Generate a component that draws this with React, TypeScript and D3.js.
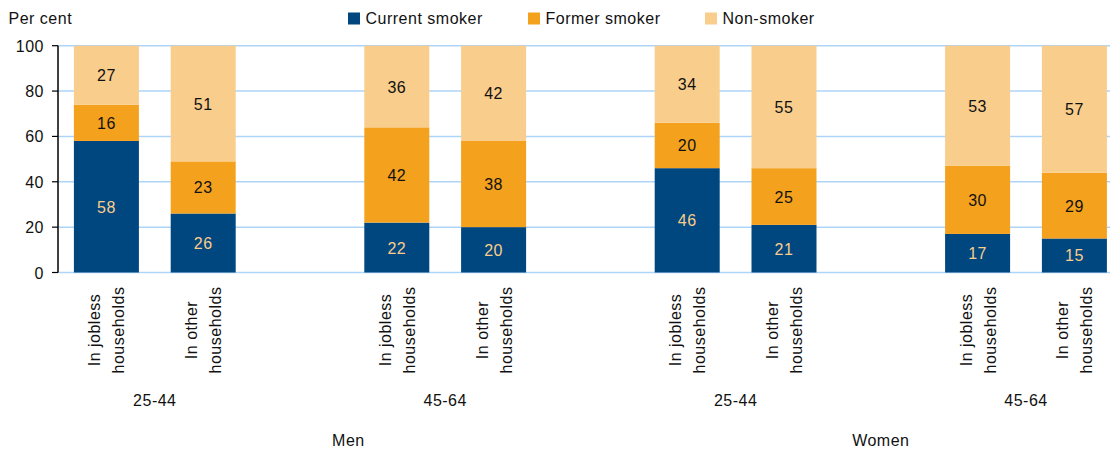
import React from "react";
import * as d3 from "d3";

const barKeys = ["M25j", "M25o", "gapA", "M45j", "M45o", "gapB", "W25j", "W25o", "gapC", "W45j", "W45o"];
const barCategories = [
  ["In jobless", "households"],
  ["In other", "households"],
  ["In jobless", "households"],
  ["In other", "households"],
  ["In jobless", "households"],
  ["In other", "households"],
  ["In jobless", "households"],
  ["In other", "households"],
];
const barIds = ["M25j", "M25o", "M45j", "M45o", "W25j", "W25o", "W45j", "W45o"];
const ageGroups = ["25-44", "45-64", "25-44", "45-64"];
const ageBars = [["M25j", "M25o"], ["M45j", "M45o"], ["W25j", "W25o"], ["W45j", "W45o"]];
const sexes = ["Men", "Women"];
const sexSlots = [["M25j", "gapB"], ["W25j", "W45o"]];

const currentSmoker = [58, 26, 22, 20, 46, 21, 17, 15];
const formerSmoker = [16, 23, 42, 38, 20, 25, 30, 29];
const nonSmoker = [27, 51, 36, 42, 34, 55, 53, 57];

const seriesNames = ["Current smoker", "Former smoker", "Non-smoker"];
const seriesColors = ["#00467f", "#f4a11e", "#f9cd8c"];
const labelColors = ["#f9cd8c", "#111111", "#111111"];
const yTicks = [0, 20, 40, 60, 80, 100];

const W = 1110;
const H = 452;
const left = 58;
const step = 96.8;
const top = 45.7;
const bottom = 272.5;
const FONT = "'Liberation Sans', Arial, sans-serif";
const LS = 0.5;

export default function App() {
  const x = d3
    .scaleBand<string>()
    .domain(barKeys)
    .range([left, left + step * barKeys.length])
    .paddingInner(0.3285)
    .paddingOuter(0.16425);
  const y = d3.scaleLinear().domain([0, 100]).range([bottom, top]);
  const bw = x.bandwidth();
  const po = x.paddingOuter() * x.step();

  const series = [currentSmoker, formerSmoker, nonSmoker];
  const stacks = barIds.map((id, i) => {
    let acc = 0;
    return series.map((s, k) => {
      const y0 = acc;
      acc += s[i];
      return { id, k, v: s[i], y0: Math.min(y0, 100), y1: Math.min(acc, 100) };
    });
  });

  const legendX = [348, 528, 705];

  return (
    <svg
      width={W}
      height={H}
      style={{ position: "absolute", left: 0, top: 0, background: "#fff" }}
      fontFamily={FONT}
    >
      {/* gridlines */}
      {yTicks.map((t) => (
        <line key={"g" + t} x1={left} x2={W} y1={y(t)} y2={y(t)} stroke="#aed5f8" strokeWidth={1.5} />
      ))}
      {/* bars */}
      {stacks.map((segs, i) =>
        segs.map((s) => (
          <rect
            key={s.id + s.k}
            x={x(s.id)!}
            width={bw}
            y={y(s.y1)}
            height={y(s.y0) - y(s.y1)}
            fill={seriesColors[s.k]}
          />
        ))
      )}
      {/* bar labels */}
      {stacks.map((segs) =>
        segs.map((s) => (
          <text
            key={"l" + s.id + s.k}
            x={x(s.id)! + bw / 2}
            y={(y(s.y0) + y(s.y1)) / 2 + 6}
            textAnchor="middle"
            fontSize={16}
            letterSpacing={LS}
            fill={labelColors[s.k]}
          >
            {s.v}
          </text>
        ))
      )}
      {/* y axis */}
      <line x1={left} x2={left} y1={top} y2={bottom} stroke="#000" strokeWidth={1.5} />
      {yTicks.map((t) => (
        <g key={"t" + t}>
          <line x1={left - 6} x2={left} y1={y(t)} y2={y(t)} stroke="#000" strokeWidth={1.2} />
          <text x={44} y={y(t) + 6} textAnchor="end" fontSize={16} letterSpacing={LS} fill="#111">
            {t}
          </text>
        </g>
      ))}
      <text x={8.5} y={24} fontSize={16} letterSpacing={LS} fill="#111">
        Per cent
      </text>
      {/* legend */}
      {seriesNames.map((n, k) => (
        <g key={n}>
          <rect x={legendX[k]} y={12.5} width={12} height={12} fill={seriesColors[k]} />
          <text x={legendX[k] + 17.5} y={24} fontSize={16} letterSpacing={LS} fill="#111">
            {n}
          </text>
        </g>
      ))}
      {/* category labels (rotated) */}
      {barIds.map((id, i) => {
        const cx = x(id)! + bw / 2;
        return (
          <g key={"c" + id} transform={`translate(${cx},330) rotate(-90)`}>
            <text x={0} y={-6} textAnchor="middle" fontSize={16} letterSpacing={LS} fill="#111">
              {barCategories[i][0]}
            </text>
            <text x={0} y={18} textAnchor="middle" fontSize={16} letterSpacing={LS} fill="#111">
              {barCategories[i][1]}
            </text>
          </g>
        );
      })}
      {/* age group labels */}
      {ageGroups.map((a, i) => {
        const cx = (x(ageBars[i][0])! + x(ageBars[i][1])! + bw) / 2;
        return (
          <text key={"a" + i} x={cx} y={406} textAnchor="middle" fontSize={16} letterSpacing={LS} fill="#111">
            {a}
          </text>
        );
      })}
      {/* sex labels */}
      {sexes.map((s, i) => {
        const l = x(sexSlots[i][0])! - po;
        const r = x(sexSlots[i][1])! + bw + po;
        return (
          <text key={s} x={(l + r) / 2} y={446} textAnchor="middle" fontSize={16} letterSpacing={LS} fill="#111">
            {s}
          </text>
        );
      })}
    </svg>
  );
}
